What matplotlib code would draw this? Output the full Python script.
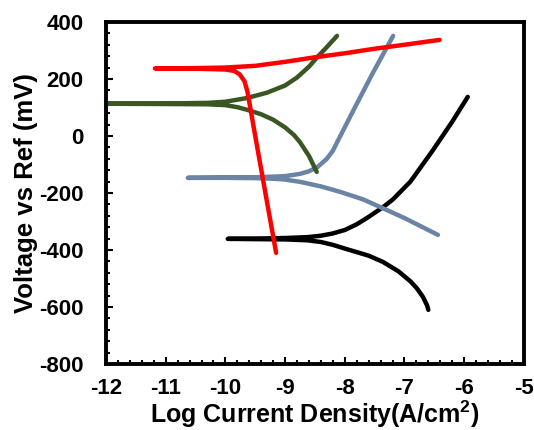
import matplotlib
matplotlib.use('Agg')
import matplotlib.pyplot as plt
from matplotlib.ticker import MultipleLocator

plt.rcParams['font.family'] = ['Liberation Sans', 'DejaVu Sans']
plt.rcParams['font.weight'] = 'bold'
plt.rcParams['axes.unicode_minus'] = False
plt.rcParams['mathtext.fontset'] = 'custom'
plt.rcParams['mathtext.rm'] = 'Liberation Sans:bold'
plt.rcParams['mathtext.default'] = 'rm'

# log current density (A/cm2) vs voltage (mV), each curve traced from
# the anodic end through the corrosion point to the cathodic end
black_x = [-5.94, -6.2, -6.52, -6.9, -7.19, -7.36, -7.63, -7.8, -8.0, -8.2, -8.4, -8.63, -9.0, -9.5, -9.96,
           -9.5, -9.0, -8.63, -8.4, -8.2, -8.0, -7.6, -7.36, -7.1, -6.9, -6.79, -6.69, -6.62, -6.6]
black_y = [137, 50, -49, -160, -222, -250, -288, -310, -330, -342, -350, -355, -358, -360, -361,
           -362, -363, -366, -372, -382, -395, -420, -442, -475, -510, -535, -565, -595, -610]

blue_x = [-7.19, -7.53, -7.86, -8.05, -8.2, -8.3, -8.45, -8.6, -8.75, -9.0, -9.5, -10.0, -10.63,
          -10.0, -9.5, -9.2, -9.0, -8.75, -8.4, -8.08, -7.7, -7.41, -7.0, -6.44]
blue_y = [351, 221, 88, 10, -52, -80, -108, -124, -133, -141, -145, -146, -147,
          -147, -148, -150, -153, -161, -177, -196, -222, -249, -288, -347]

green_x = [-8.13, -8.3, -8.47, -8.6, -8.8, -9.0, -9.3, -9.64, -10.0, -10.3, -11.0, -12.0,
           -11.0, -10.3, -10.0, -9.8, -9.64, -9.4, -9.2, -9.0, -8.85, -8.75, -8.6, -8.47]
green_y = [351, 312, 274, 243, 205, 177, 152, 133, 120, 116, 114, 113,
           112, 111, 108, 101, 92, 76, 57, 30, 3, -22, -70, -126]

red_x = [-6.41, -7.0, -7.5, -8.0, -8.5, -9.0, -9.5, -10.0, -10.5, -11.18,
         -10.5, -10.0, -9.85, -9.76, -9.68, -9.63, -9.5, -9.3, -9.15]
red_y = [337, 320, 306, 290, 276, 260, 246, 240, 238, 237,
         236, 233, 228, 216, 192, 155, 0, -235, -410]

fig = plt.figure(figsize=(5.34, 4.30), dpi=100)
ax = fig.add_axes([0.1985, 0.1535, 0.7825, 0.7955])

kw = dict(lw=3.2, solid_capstyle='round', solid_joinstyle='round')
ax.plot(black_x, black_y, color='black', **kw)
ax.plot(blue_x, blue_y, color='#6A84A6', **kw)
ax.plot(green_x, green_y, color='#3A5723', **kw)
ax.plot(red_x, red_y, color='#FF0000', **kw)

ax.set_xlim(-12, -5)
ax.set_ylim(-800, 400)
ax.xaxis.set_major_locator(MultipleLocator(1))
ax.xaxis.set_minor_locator(MultipleLocator(0.2))
ax.yaxis.set_major_locator(MultipleLocator(200))
ax.yaxis.set_minor_locator(MultipleLocator(40))
ax.tick_params(which='both', direction='in', top=False, right=False, width=1.5, labelsize=16)
ax.tick_params(which='major', length=5, pad=10)
ax.tick_params(which='minor', length=3)
ax.tick_params(axis='y', pad=16)
for s in ax.spines.values():
    s.set_linewidth(2.8)

ax.set_xlabel('Log Current Density(A/cm$^{2}$)', fontsize=18, fontweight='bold', labelpad=0)
ax.set_ylabel('Voltage vs Ref (mV)', fontsize=18.5, fontweight='bold', labelpad=1)

fig.savefig('out.png', dpi=100)
